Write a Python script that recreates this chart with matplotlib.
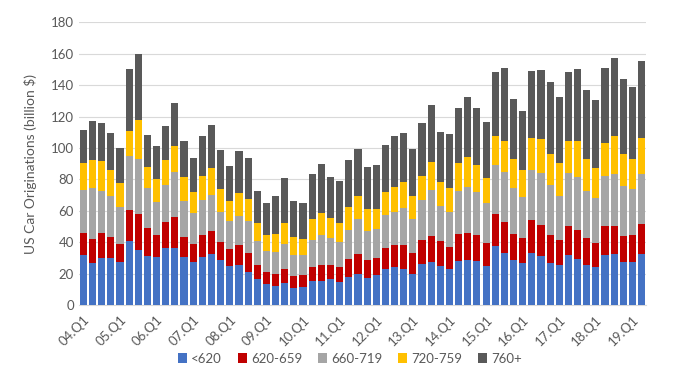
import matplotlib
matplotlib.use("Agg")
import matplotlib.pyplot as plt
import numpy as np

plt.rcParams['font.family'] = ['Lato', 'DejaVu Sans']

# quarters 04.Q1 .. 19.Q2
quarters = [f"{y:02d}.Q{q}" for y in range(4, 20) for q in range(1, 5)][:62]

# originations by credit score band (billion $)
below_620 = [31.8, 26.8, 29.7, 29.7, 27.4, 40.8, 35.0, 31.2, 30.6, 36.5,
             36.3, 30.6, 27.4, 30.6, 32.5, 28.7, 24.8, 25.5, 21.2, 16.3,
             13.4, 12.1, 14.0, 11.0, 11.7, 15.3, 15.3, 16.6, 14.6, 18.0,
             19.7, 17.2, 19.1, 22.9, 24.2, 22.9, 19.7, 26.3, 27.4, 24.8,
             22.9, 28.0, 28.7, 28.0, 24.8, 37.6, 32.9, 28.7, 26.8, 33.1,
             31.2, 26.8, 25.5, 31.8, 29.3, 25.5, 24.2, 31.8, 32.5, 27.4,
             27.4, 32.5]
s620_659 = [14.3, 15.2, 16.4, 13.6, 11.5, 19.7, 23.2, 18.1, 14.0, 16.6,
            19.8, 12.9, 11.5, 14.0, 14.6, 11.6, 10.9, 12.7, 11.7, 9.2,
            7.6, 7.6, 8.9, 7.5, 7.6, 8.9, 10.2, 8.9, 9.6, 11.3,
            12.8, 11.5, 10.8, 13.4, 14.0, 15.3, 13.6, 15.1, 16.5, 16.0,
            14.0, 17.4, 17.4, 16.6, 14.9, 20.4, 20.0, 16.5, 15.9, 21.0,
            19.8, 17.8, 15.9, 18.5, 18.5, 17.2, 15.5, 18.5, 17.8, 16.5,
            17.2, 19.1]
s660_719 = [26.9, 32.5, 26.3, 26.1, 23.3, 34.2, 34.8, 25.2, 21.0, 23.3,
            28.4, 22.5, 19.7, 22.3, 23.0, 18.9, 17.6, 18.5, 20.6, 15.3,
            13.4, 14.1, 16.0, 13.3, 12.5, 17.2, 19.1, 17.2, 16.1, 18.5,
            22.1, 18.4, 18.7, 21.0, 21.2, 23.4, 21.3, 25.5, 29.3, 22.3,
            22.5, 27.2, 29.1, 27.4, 25.3, 31.2, 31.8, 29.3, 26.1, 31.9,
            32.9, 31.8, 28.0, 34.0, 33.7, 29.9, 28.5, 31.9, 33.1, 31.9,
            29.1, 31.8]
s720_759 = [17.4, 18.1, 19.5, 16.6, 15.5, 16.1, 25.0, 13.6, 14.7, 16.2,
            16.8, 15.7, 13.4, 15.3, 17.2, 14.7, 12.9, 14.8, 14.0, 11.6,
            10.2, 11.6, 13.5, 11.7, 10.2, 13.4, 14.2, 12.9, 12.1, 14.8,
            14.8, 14.0, 12.5, 14.7, 16.0, 16.7, 14.8, 15.3, 17.9, 15.2,
            15.1, 17.8, 19.1, 17.2, 16.1, 18.4, 19.8, 18.5, 17.2, 20.4,
            21.8, 19.8, 21.0, 20.2, 23.2, 20.4, 19.1, 21.0, 24.2, 20.4,
            19.5, 23.0]
s760_plus = [21.1, 24.6, 24.0, 23.6, 22.3, 39.5, 41.9, 20.2, 21.0, 21.4,
             27.6, 22.8, 21.6, 25.4, 27.3, 25.0, 22.3, 26.6, 25.9, 20.2,
             20.4, 24.0, 28.7, 22.7, 23.0, 28.6, 31.0, 26.1, 26.8, 29.8,
             30.2, 27.0, 28.1, 29.9, 32.2, 31.0, 29.8, 33.9, 36.3, 31.9,
             34.4, 34.9, 38.0, 36.1, 35.7, 40.8, 46.2, 38.2, 37.8, 42.6,
             44.0, 45.8, 42.1, 43.9, 45.6, 43.9, 43.3, 47.7, 49.7, 47.7,
             45.8, 49.0]

series = [("<620", below_620, "#4472C4"),
          ("620-659", s620_659, "#C00000"),
          ("660-719", s660_719, "#A5A5A5"),
          ("720-759", s720_759, "#FFC000"),
          ("760+", s760_plus, "#595959")]

fig = plt.figure(figsize=(6.75, 3.85), dpi=100)
ax = fig.add_axes([0.1167, 0.208, 0.8407, 0.734])

x = np.arange(len(quarters))
bottom = np.zeros(len(quarters))
for name, vals, color in series:
    vals = np.array(vals)
    ax.bar(x, vals, width=0.78, bottom=bottom, color=color, label=name, zorder=3)
    bottom += vals

ax.set_xlim(-0.5, len(quarters) - 0.5)
ax.set_ylim(0, 180)
ax.set_yticks(range(0, 181, 20))
ax.grid(axis='y', color='#D9D9D9', linewidth=0.8, zorder=0)
for s in ['top', 'right', 'left']:
    ax.spines[s].set_visible(False)
ax.spines['bottom'].set_color('#D9D9D9')

ax.set_xticks(x[::4])
ax.set_xticklabels(quarters[::4], rotation=45, ha='right', rotation_mode='anchor')
ax.tick_params(axis='both', length=0, labelsize=9.5, labelcolor='#595959')
ax.tick_params(axis='x', pad=6)
ax.set_ylabel('US Car Originations (billion $)', fontsize=10, color='#595959', labelpad=10)

ax.legend(loc='center', bbox_to_anchor=(0.478, -0.19), ncol=5, frameon=False,
          fontsize=9.5, handlelength=0.7, handleheight=0.7, handletextpad=0.3,
          columnspacing=1.2, labelcolor='#595959')

fig.savefig('out.png', dpi=100)
